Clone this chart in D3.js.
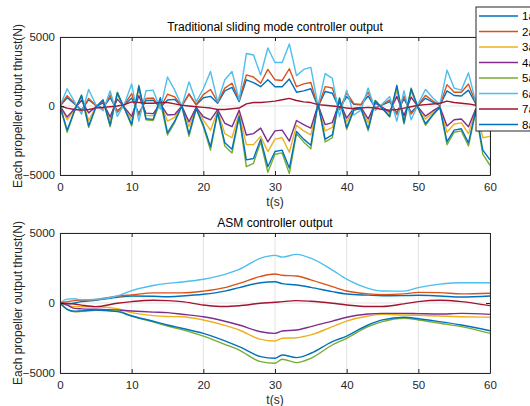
<!DOCTYPE html>
<html><head><meta charset="utf-8">
<script src="https://cdn.jsdelivr.net/npm/d3@7"></script>
<style>body{margin:0;background:#fff}svg{display:block;font-family:"Liberation Sans",Arial,sans-serif}</style>
</head><body><svg id="c" width="530" height="406"></svg>
<script>
// ---------- data ----------
const seriesNames = ["1a","2a","3a","4a","5a","6a","7a","8a"];
const seriesColors = ["#0072BD","#D95319","#EDB120","#7E2F8E","#77AC30","#4DBEEE","#A2142F","#0072BD"];
const xTicks = [0,10,20,30,40,50,60];
const yTicks = [-5000,0,5000];
const titleTop = "Traditional sliding mode controller output";
const titleBottom = "ASM controller output";
const xLabel = "t(s)";
const yLabel = "Each propeller output thrust(N)";

// Traditional SMC, sampled every second
const tTop = [0,1,2,3,4,5,6,7,8,9,10,11,12,13,14,15,16,17,18,19,20,21,22,23,24,25,26,27,28,29,30,31,32,33,34,35,36,37,38,39,40,41,42,43,44,45,46,47,48,49,50,51,52,53,54,55,56,57,58,59,60];
const top1 = [0,600,160,-280,450,40,-160,600,-350,80,580,-520,400,420,-100,430,480,0,880,80,600,700,200,1100,1350,320,1900,1700,1400,1900,1400,1400,1950,1000,1100,1250,-70,1050,920,-210,680,120,80,720,-140,80,320,-490,520,-450,80,560,280,40,1100,760,720,1150,160,1400,1700];
const top2 = [0,750,220,-360,550,55,-200,800,-450,110,900,-680,550,580,-135,850,660,0,850,110,820,1200,280,1300,1650,440,2250,2100,1650,2650,1900,1850,2700,1400,1600,1700,-100,1400,1300,-270,950,170,110,1000,-180,110,440,-630,720,-590,110,770,380,55,1550,1000,1000,1600,220,1900,2350];
const top3 = [0,-1000,-270,640,-1050,-70,360,-1020,800,-140,-990,1200,-680,-710,240,-1100,-820,0,-1500,-140,-1020,-1750,-340,-2000,-2300,-540,-2800,-2800,-2200,-3300,-2400,-2300,-3350,-1400,-1800,-2100,160,-1800,-1550,480,-1150,-200,-140,-1220,320,-140,-540,1120,-880,1040,-140,-950,-480,-70,-1900,-1300,-1220,-2000,-270,-2300,-2200];
const top4 = [0,-800,-210,400,-500,-50,225,-780,500,-100,-750,750,-520,-550,150,-650,-620,0,-1150,-100,-780,-1000,-260,-1250,-1500,-300,-2100,-2000,-1600,-2600,-1800,-1750,-2550,-1050,-1350,-1600,100,-1350,-1200,300,-880,-160,-100,-940,200,-100,-420,700,-680,650,-100,-730,-360,-50,-1450,-1000,-940,-1500,-210,-1300,-1500];
const top5 = [0,-1900,-400,800,-1550,-100,450,-1500,1000,-200,-1450,1500,-1000,-1050,300,-2100,-1200,0,-2200,-200,-1500,-3200,-500,-2900,-3400,-800,-4400,-4150,-2600,-4800,-3500,-3400,-4900,-2000,-2600,-3100,200,-2600,-2300,600,-1700,-300,-200,-1800,400,-200,-800,1400,-1300,1300,-200,-1400,-700,-100,-2800,-1900,-1800,-2900,-400,-3500,-4300];
const top6 = [0,1250,340,-600,1200,85,-340,1100,-750,170,1600,-1100,1100,1150,-230,2100,1150,0,1750,300,1250,2500,300,1900,2500,430,3800,3700,2250,4200,3150,3150,4500,2200,2650,2800,0,2350,2000,-770,1150,-650,-300,1300,-320,170,680,-1100,1100,-1000,170,1200,600,100,2600,1300,1150,2400,300,3000,3600];
const top7 = [0,-150,-250,-300,-250,-150,-100,-50,0,100,300,250,200,200,250,250,150,50,0,-50,-100,-150,-250,-250,-200,-150,150,250,250,300,350,450,550,400,300,250,100,50,0,-50,-150,-200,-150,-100,-150,-250,-300,-250,-150,-50,50,100,150,200,350,250,200,150,50,0,-50];
const top8 = [0,-1750,-370,760,-1430,-90,430,-1380,950,-180,-1330,1430,-920,-970,600,-1950,-1100,0,-2020,-180,-1380,-2950,-460,-2670,-3130,-740,-3900,-3800,-2400,-4400,-3300,-3200,-4500,-1850,-2400,-2850,180,-2400,-2100,570,-1560,-280,-180,-1650,380,-180,-740,1500,-1200,1240,-180,-1290,-640,-90,-2580,-1750,-1650,-2670,-370,-3200,-3900];

// ASM controller (smooth)
const tBot = [0,1,2,3,5,8,10,13,15,17,20,23,25,28,30,31,33,35,38,40,43,45,48,50,53,56,60];
const bot1 = [0,-80,0,100,200,400,500,480,450,500,620,850,1100,1450,1520,1380,1290,1120,810,640,560,520,530,550,500,430,500];
const bot2 = [0,100,170,200,250,480,580,720,720,720,850,1100,1400,1900,2070,1980,1930,1650,1170,860,650,600,650,760,740,650,700];
const bot3 = [0,-150,-260,-270,-270,-400,-690,-900,-960,-980,-1210,-1600,-1930,-2600,-2710,-2520,-2480,-2280,-1690,-1290,-930,-810,-860,-880,-930,-980,-1020];
const bot4 = [0,-150,-380,-420,-450,-500,-570,-650,-690,-800,-980,-1300,-1570,-2050,-2170,-2000,-1930,-1690,-1290,-1020,-790,-740,-740,-760,-790,-740,-810];
const bot5 = [0,-450,-620,-600,-520,-570,-930,-1350,-1640,-1900,-2360,-2950,-3360,-4190,-4300,-4020,-4260,-3950,-3000,-2520,-1690,-1330,-1090,-1210,-1450,-1690,-2170];
const bot6 = [0,280,300,220,250,500,880,1250,1400,1500,1700,2050,2400,3200,3400,3280,3470,3200,2350,1700,1050,860,850,1100,1350,1450,1450];
const bot7 = [0,-30,-70,-150,-260,-20,100,200,170,100,-140,-250,-200,-20,50,100,170,120,-20,-140,-250,-250,-60,100,200,100,-190];
const bot8 = [0,-450,-580,-560,-500,-620,-930,-1300,-1570,-1800,-2170,-2700,-3120,-3830,-3950,-3710,-3900,-3590,-2760,-2360,-1570,-1210,-1020,-1120,-1330,-1570,-1980];

const topSeries = [top1,top2,top3,top4,top5,top6,top7,top8];
const botSeries = [bot1,bot2,bot3,bot4,bot5,bot6,bot7,bot8];

// ---------- drawing ----------
const svg = d3.select("#c");
const axisColor = "#262626";
const gridColor = "#e3e3e3";
const L = 60, R = 490;

function panel(top, bottom, tArr, series, title, curve, id) {
  const x = d3.scaleLinear().domain([0,60]).range([L,R]);
  const y = d3.scaleLinear().domain([-5000,5000]).range([bottom,top]);
  const g = svg.append("g");
  g.selectAll(".gx").data(xTicks).enter().append("line")
    .attr("x1",d=>x(d)).attr("x2",d=>x(d)).attr("y1",top).attr("y2",bottom)
    .attr("stroke",gridColor).attr("stroke-width",1);
  g.selectAll(".gy").data(yTicks).enter().append("line")
    .attr("x1",L).attr("x2",R).attr("y1",d=>y(d)).attr("y2",d=>y(d))
    .attr("stroke",gridColor).attr("stroke-width",1);
  svg.append("clipPath").attr("id",id).append("rect")
    .attr("x",L).attr("y",top).attr("width",R-L).attr("height",bottom-top);
  const line = d3.line().x((d,i)=>x(tArr[i])).y(d=>y(d)).curve(curve);
  const lg = g.append("g").attr("clip-path",`url(#${id})`);
  series.forEach((s,k)=>{
    lg.append("path").attr("d",line(s)).attr("fill","none")
      .attr("stroke",seriesColors[k]).attr("stroke-width",1.4).attr("stroke-linejoin","round");
  });
  const fmt = d3.format("d");
  const ax = g.append("g").attr("transform",`translate(0,${bottom})`)
    .call(d3.axisBottom(x).tickValues(xTicks).tickFormat(fmt).tickSizeInner(-4).tickSizeOuter(0).tickPadding(8));
  const ay = g.append("g").attr("transform",`translate(${L},0)`)
    .call(d3.axisLeft(y).tickValues(yTicks).tickFormat(fmt).tickSizeInner(-4).tickSizeOuter(0).tickPadding(5));
  const ax2 = g.append("g").attr("transform",`translate(0,${top})`)
    .call(d3.axisTop(x).tickValues(xTicks).tickSizeInner(-4).tickSizeOuter(0).tickFormat(""));
  const ay2 = g.append("g").attr("transform",`translate(${R},0)`)
    .call(d3.axisRight(y).tickValues(yTicks).tickSizeInner(-4).tickSizeOuter(0).tickFormat(""));
  [ax,ay,ax2,ay2].forEach(a=>{
    a.select(".domain").attr("stroke",axisColor).attr("stroke-width",1);
    a.selectAll(".tick line").attr("stroke",axisColor);
    a.selectAll("text").attr("fill",axisColor).attr("font-size",11.5)
      .attr("font-family",'"Liberation Sans",Arial,sans-serif');
  });
  ax.selectAll("text").attr("dy","0.71em");
  g.append("text").attr("x",(L+R)/2).attr("y",top-6).attr("text-anchor","middle")
    .attr("font-size",12).attr("fill","#000").text(title);
  g.append("text").attr("x",(L+R)/2).attr("y",bottom+31).attr("text-anchor","middle")
    .attr("font-size",12).attr("fill",axisColor).text(xLabel);
  g.append("text").attr("transform",`translate(22,${(top+bottom)/2}) rotate(-90)`)
    .attr("text-anchor","middle").attr("font-size",12).attr("fill",axisColor).text(yLabel);
}

panel(37, 175, tTop, topSeries, titleTop, d3.curveLinear, "clipTop");
panel(233, 373, tBot, botSeries, titleBottom, d3.curveMonotoneX, "clipBot");

// legend (top-right, partly outside the window as in the reference)
const lgX = 476, lgY = 7, lgH = 124, rowH = 15.5;
const leg = svg.append("g");
leg.append("rect").attr("x",lgX).attr("y",lgY).attr("width",90).attr("height",lgH)
  .attr("fill","#fff").attr("stroke",axisColor).attr("stroke-width",1);
seriesNames.forEach((n,k)=>{
  const yy = lgY + 9 + k*rowH;
  leg.append("line").attr("x1",lgX+3).attr("x2",lgX+42).attr("y1",yy).attr("y2",yy)
    .attr("stroke",seriesColors[k]).attr("stroke-width",1.4);
  leg.append("text").attr("x",lgX+46).attr("y",yy).attr("dy","0.35em")
    .attr("font-size",11.5).attr("fill","#000").text(n);
});
</script></body></html>
